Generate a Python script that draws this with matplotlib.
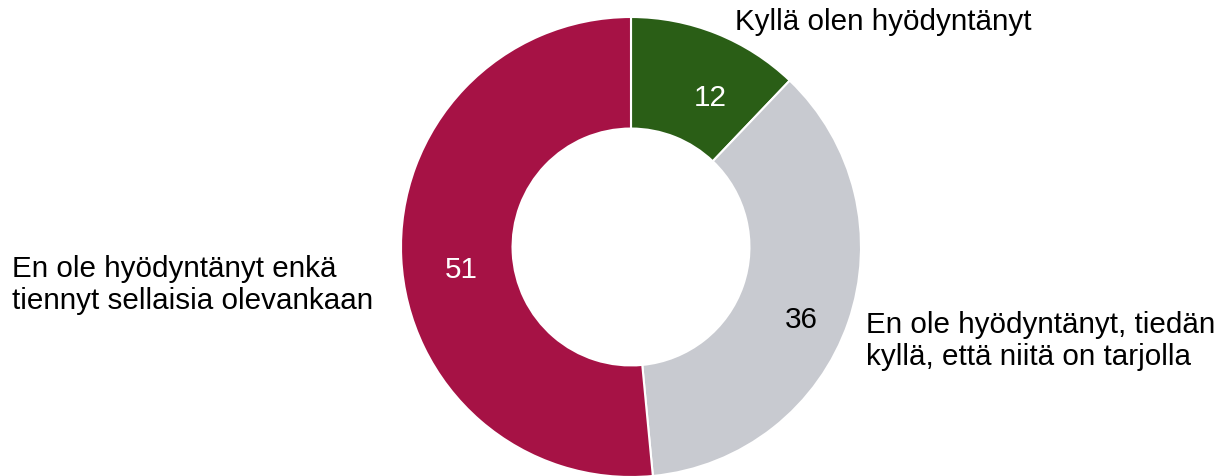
import matplotlib
matplotlib.use("Agg")
import matplotlib.pyplot as plt

categories = ["Kyllä olen hyödyntänyt",
              "En ole hyödyntänyt, tiedän\nkyllä, että niitä on tarjolla",
              "En ole hyödyntänyt enkä\ntiennyt sellaisia olevankaan"]
values = [12, 36, 51]
colors = ["#2a5e16", "#c8cad0", "#a61245"]

plt.rcParams['font.family'] = ['Liberation Sans', 'DejaVu Sans']

W, H = 1216, 477
fig = plt.figure(figsize=(W / 100, H / 100), dpi=100)
cx, cy, R = 631, 248, 230
ax = fig.add_axes([(cx - R) / W, (H - cy - R) / H, 2 * R / W, 2 * R / H])
ax.pie(values, colors=colors, startangle=90, counterclock=False,
       radius=1.0, wedgeprops=dict(width=0.485, edgecolor="white", linewidth=1.5))
ax.set_xlim(-1, 1)
ax.set_ylim(-1, 1)
ax.set_aspect("equal")
ax.axis("off")

# value labels (pixel positions converted to data coords)
val_pos = [(710, 98), (801, 320), (461, 270)]
val_col = ["white", "black", "white"]
for v, (px, py), c in zip(values, val_pos, val_col):
    ax.text((px - cx) / R, (cy - py) / R, str(v), ha="center", va="center",
            fontsize=21.3, color=c)

# category labels
fs = 21.3
fig.text(735 / W, 1 - 22 / H, categories[0], ha="left", va="center", fontsize=fs)
fig.text(866 / W, 1 - 341 / H, categories[1], ha="left", va="center", fontsize=fs,
         linespacing=1.2)
fig.text(12 / W, 1 - 285 / H, categories[2], ha="left", va="center", fontsize=fs,
         linespacing=1.2)

fig.savefig("out.png", dpi=100)
